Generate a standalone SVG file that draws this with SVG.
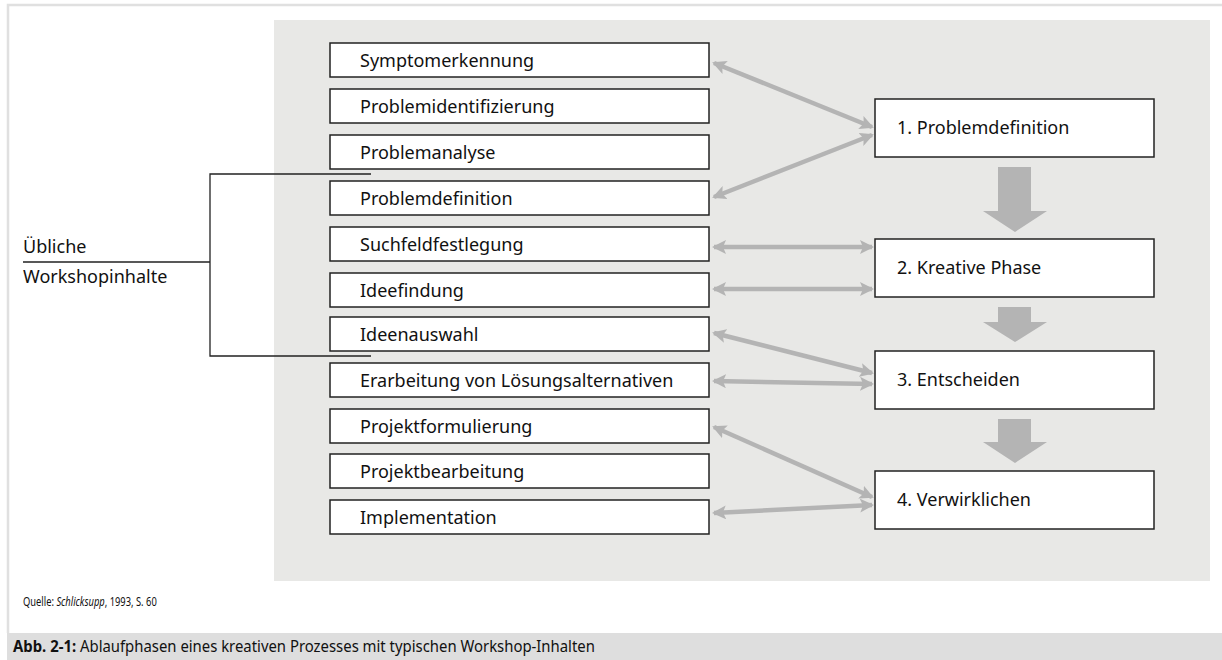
<svg xmlns="http://www.w3.org/2000/svg" width="1222" height="660" viewBox="0 0 1222 660">
<style>
.box{fill:#fff;stroke:#222;stroke-width:1.5}
.t{font-family:"Noto Sans","Open Sans",sans-serif;font-size:18px;fill:#111}
.con{stroke:#b4b4b4;stroke-width:4.5;fill:none;marker-start:url(#ah);marker-end:url(#ah)}
.big{fill:#b4b4b4}
.br{stroke:#222;stroke-width:1.3;fill:none}
.cap{font-family:"Noto Sans","Open Sans",sans-serif;fill:#111}
</style>
<defs>
<marker id="ah" viewBox="0 0 14 14" refX="12" refY="7" markerWidth="14" markerHeight="14" markerUnits="userSpaceOnUse" orient="auto-start-reverse">
<path d="M0,0 L14,7 L0,14 L3,7 Z" fill="#b4b4b4"/>
</marker>
</defs>
<rect x="0" y="0" width="1222" height="660" fill="#fff"/>
<path d="M8,633 V5 H1222" stroke="#e0e0e0" stroke-width="2.5" fill="none"/>
<rect x="274" y="20" width="936" height="561" fill="#e8e8e6"/>

<g id="bracket">
<path class="br" d="M371,174 H210 V356 H371 M210,262 H23"/>
<text class="t" x="23" y="253">Übliche</text>
<text class="t" x="23" y="283">Workshopinhalte</text>
</g>

<g id="connectors">
<line class="con" x1="714" y1="63" x2="872" y2="127"/>
<line class="con" x1="714" y1="197" x2="872" y2="135"/>
<line class="con" x1="714" y1="247" x2="872" y2="247"/>
<line class="con" x1="714" y1="289" x2="872" y2="289"/>
<line class="con" x1="714" y1="333" x2="872" y2="373"/>
<line class="con" x1="714" y1="381" x2="872" y2="384"/>
<line class="con" x1="714" y1="427" x2="872" y2="497"/>
<line class="con" x1="714" y1="513" x2="872" y2="505"/>
<path class="big" d="M998,167 H1031 V211 H1047 L1015,232 L983,211 H998 Z"/>
<path class="big" d="M998,307 H1031 V322 H1047 L1015,342 L983,322 H998 Z"/>
<path class="big" d="M998,419 H1031 V442 H1047 L1015,463 L983,442 H998 Z"/>
</g>

<g id="n1"><rect class="box" x="330" y="43" width="379" height="34"/><text class="t" x="360" y="67">Symptomerkennung</text></g>
<g id="n2"><rect class="box" x="330" y="89" width="379" height="34"/><text class="t" x="360" y="113">Problemidentifizierung</text></g>
<g id="n3"><rect class="box" x="330" y="135" width="379" height="34"/><text class="t" x="360" y="159">Problemanalyse</text></g>
<g id="n4"><rect class="box" x="330" y="181" width="379" height="34"/><text class="t" x="360" y="205">Problemdefinition</text></g>
<g id="n5"><rect class="box" x="330" y="227" width="379" height="34"/><text class="t" x="360" y="251">Suchfeldfestlegung</text></g>
<g id="n6"><rect class="box" x="330" y="273" width="379" height="34"/><text class="t" x="360" y="297">Ideefindung</text></g>
<g id="n7"><rect class="box" x="330" y="317" width="379" height="34"/><text class="t" x="360" y="341">Ideenauswahl</text></g>
<g id="n8"><rect class="box" x="330" y="363" width="379" height="34"/><text class="t" x="360" y="387">Erarbeitung von Lösungsalternativen</text></g>
<g id="n9"><rect class="box" x="330" y="409" width="379" height="34"/><text class="t" x="360" y="433">Projektformulierung</text></g>
<g id="n10"><rect class="box" x="330" y="454" width="379" height="34"/><text class="t" x="360" y="478">Projektbearbeitung</text></g>
<g id="n11"><rect class="box" x="330" y="500" width="379" height="34"/><text class="t" x="360" y="524">Implementation</text></g>

<g id="p1"><rect class="box" x="875" y="99" width="279" height="58"/><text class="t" x="897" y="134">1. Problemdefinition</text></g>
<g id="p2"><rect class="box" x="875" y="239" width="279" height="58"/><text class="t" x="897" y="274">2. Kreative Phase</text></g>
<g id="p3"><rect class="box" x="875" y="351" width="279" height="58"/><text class="t" x="897" y="386">3. Entscheiden</text></g>
<g id="p4"><rect class="box" x="875" y="471" width="279" height="58"/><text class="t" x="897" y="506">4. Verwirklichen</text></g>

<g id="source" transform="translate(23,606) scale(0.72,1)"><text class="cap" x="0" y="0" font-size="13">Quelle: <tspan font-style="italic">Schlicksupp</tspan>, 1993, S. 60</text></g>
<g id="caption">
<rect x="7" y="633" width="1215" height="27" fill="#dedede"/>
<g transform="translate(13,652) scale(0.96,1)"><text class="cap" x="0" y="0" font-size="15.5"><tspan font-weight="bold">Abb. 2-1:</tspan> Ablaufphasen eines kreativen Prozesses mit typischen Workshop-Inhalten</text></g>
</g>
</svg>
